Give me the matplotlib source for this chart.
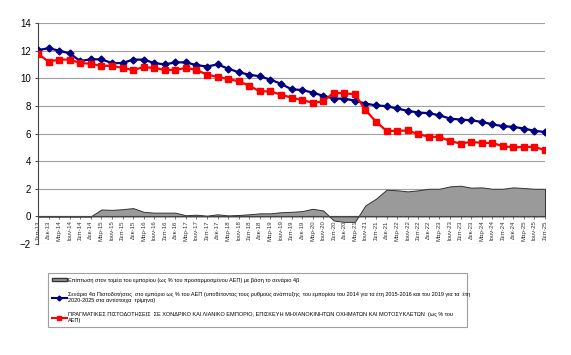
import matplotlib
matplotlib.use("Agg")
import matplotlib.pyplot as plt
from matplotlib.patches import Patch
from matplotlib.lines import Line2D

plt.rcParams['font.family'] = ['Liberation Sans', 'DejaVu Sans']

quarters = ["Σεπ-13", "Δεκ-13",
            "Μαρ-14", "Ιουν-14", "Σεπ-14", "Δεκ-14",
            "Μαρ-15", "Ιουν-15", "Σεπ-15", "Δεκ-15",
            "Μαρ-16", "Ιουν-16", "Σεπ-16", "Δεκ-16",
            "Μαρ-17", "Ιουν-17", "Σεπ-17", "Δεκ-17",
            "Μαρ-18", "Ιουν-18", "Σεπ-18", "Δεκ-18",
            "Μαρ-19", "Ιουν-19", "Σεπ-19", "Δεκ-19",
            "Μαρ-20", "Ιουν-20", "Σεπ-20", "Δεκ-20",
            "Μαρ-21", "Ιουν-21", "Σεπ-21", "Δεκ-21",
            "Μαρ-22", "Ιουν-22", "Σεπ-22", "Δεκ-22",
            "Μαρ-23", "Ιουν-23", "Σεπ-23", "Δεκ-23",
            "Μαρ-24", "Ιουν-24", "Σεπ-24", "Δεκ-24",
            "Μαρ-25", "Ιουν-25", "Σεπ-25"]

# impact on trade sector (scenario 4b), % of adjusted GDP
impact = [0, 0, 0, 0, 0, 0, 0.5, 0.47, 0.52, 0.6,
          0.33, 0.27, 0.27, 0.27, 0.08, 0.12, 0.05, 0.15, 0.07, 0.1,
          0.15, 0.22, 0.22, 0.3, 0.33, 0.38, 0.55, 0.43, -0.3, -0.4,
          -0.4, 0.8, 1.28, 1.93, 1.89, 1.81, 1.89, 2.0, 2.0, 2.17,
          2.22, 2.08, 2.1, 2.0, 2.0, 2.1, 2.05, 2.0, 2.0]

# scenario 4a credit to trade, % of GDP
scenario = [12.04, 12.17, 12.0, 11.8, 11.25, 11.37, 11.37, 11.1, 11.1, 11.35,
            11.35, 11.1, 11.0, 11.15, 11.15, 10.95, 10.85, 11.0, 10.7, 10.43,
            10.26, 10.14, 9.9, 9.6, 9.2, 9.15, 8.96, 8.73, 8.53, 8.52,
            8.38, 8.17, 8.03, 7.98, 7.81, 7.64, 7.52, 7.47, 7.32, 7.08,
            7.01, 6.96, 6.84, 6.67, 6.53, 6.48, 6.36, 6.19, 6.11]

# actual credit to wholesale / retail trade, % of GDP
actual = [11.78, 11.2, 11.35, 11.35, 11.1, 11.05, 10.9, 10.9, 10.75, 10.6,
          10.8, 10.75, 10.6, 10.6, 10.75, 10.6, 10.26, 10.1, 9.95, 9.78,
          9.46, 9.05, 9.05, 8.81, 8.6, 8.42, 8.23, 8.32, 8.96, 8.9,
          8.85, 7.7, 6.85, 6.19, 6.19, 6.22, 5.95, 5.77, 5.75, 5.46,
          5.27, 5.39, 5.32, 5.32, 5.08, 5.0, 5.03, 5.03, 4.79]

label_impact = "Επίπτωση στον τομέα του εμπορίου (ως % του προσαρμοσμένου ΑΕΠ) με βάση το σενάριο 4β"
label_scen = ("Σενάριο 4α Πιστοδοτήσεις  στο εμπόριο ως % του ΑΕΠ (υποθέτοντας τους ρυθμούς ανάπτυξης  "
              "του εμπορίου του 2014 για τα έτη 2015-2016 και του 2019 για τα  έτη\n"
              "2020-2025 στα αντίστοιχα  τρίμηνα)")
label_actual = ("ΠΡΑΓΜΑΤΙΚΕΣ ΠΙΣΤΟΔΟΤΗΣΕΙΣ  ΣΕ ΧΟΝΔΡΙΚΟ ΚΑΙ ΛΙΑΝΙΚΟ ΕΜΠΟΡΙΟ, ΕΠΙΣΚΕΥΗ "
                "ΜΗΧΑΝΟΚΙΝΗΤΩΝ ΟΧΗΜΑΤΩΝ ΚΑΙ ΜΟΤΟΣΥΚΛΕΤΩΝ  (ως % του\nΑΕΠ)")

x = list(range(len(quarters)))

fig = plt.figure(figsize=(5.71, 3.55), dpi=100)
ax = fig.add_axes([38 / 571, 1 - 244 / 355, 507 / 571, 221 / 355])

ax.fill_between(x, impact, 0, color="#9a9a9a", edgecolor="#333333", linewidth=0.7, zorder=2)
ax.plot(x, scenario, color="#000080", marker="D", markersize=3.5, linewidth=1.6, zorder=3)
ax.plot(x, actual, color="#FF0000", marker="s", markersize=5, linewidth=1.6, zorder=4)

ax.set_xlim(0, len(quarters) - 1)
ax.set_ylim(-2, 14)
ax.set_yticks(range(-2, 15, 2))
ax.yaxis.grid(True, color="#a0a0a0", linewidth=0.8)
ax.set_axisbelow(True)

# category axis crosses at zero, as in the original
ax.spines['bottom'].set_position(('data', 0))
ax.spines['bottom'].set_color("#444444")
ax.spines['left'].set_color("#444444")
ax.spines['top'].set_visible(False)
ax.spines['right'].set_visible(False)

ax.set_xticks(x)
ax.set_xticklabels(quarters, rotation=90, fontsize=4.3, color="#333333")
ax.tick_params(axis='x', length=2, width=0.5, pad=1, color="#444444")
ax.tick_params(axis='y', length=2, width=0.5, labelsize=7, pad=3)

handles = [Patch(facecolor="#9a9a9a", edgecolor="#333333", linewidth=1.0),
           Line2D([], [], color="#000080", marker="D", markersize=2.5, linewidth=1.5),
           Line2D([], [], color="#FF0000", marker="s", markersize=2.5, linewidth=1.5)]
leg = fig.legend(handles, [label_impact, label_scen, label_actual],
                 loc="upper left", bbox_to_anchor=(45 / 571, 1 - 274 / 355, 425 / 571, 0.01),
                 mode="expand", fontsize=4.0, frameon=True, fancybox=False,
                 edgecolor="#888888", handlelength=2.6, handleheight=0.5,
                 handletextpad=0.2, labelspacing=1.6, borderpad=0.8)
leg.get_frame().set_linewidth(0.8)

fig.savefig("out.png", dpi=100)
